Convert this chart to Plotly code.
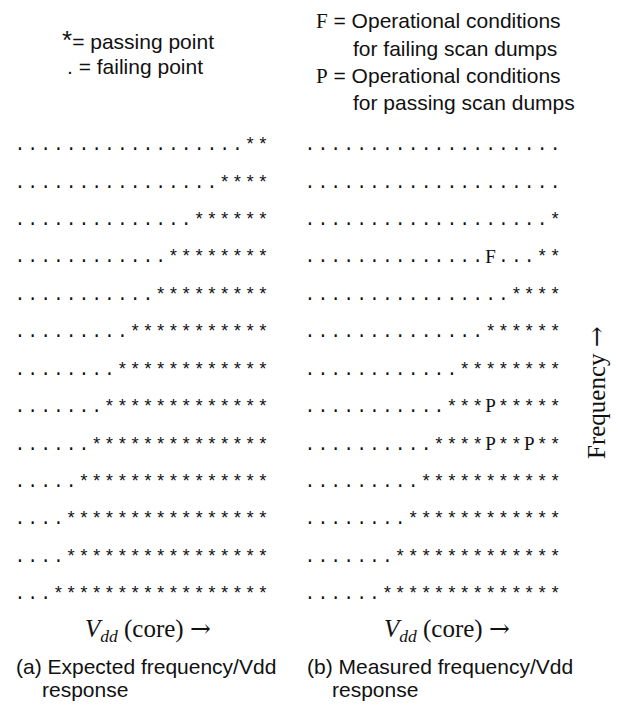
import plotly.graph_objects as go

# ---- data ----
n_cols = 20
row_ids = list(range(13))  # top (high frequency) -> bottom (low frequency)
expected_pass_counts = [2, 4, 6, 8, 9, 11, 12, 13, 14, 15, 16, 16, 17]
measured_pass_counts = [0, 0, 1, 2, 4, 6, 8, 9, 10, 11, 12, 13, 14]
failing_scan_rows = [3]
failing_scan_cols = [14]
passing_scan_rows = [7, 8, 8]
passing_scan_cols = [14, 14, 17]

MONO = "Liberation Mono, Courier New, monospace"
SANS = "Liberation Sans, Arial, sans-serif"
SERIF = "Liberation Serif, Times New Roman, serif"


def build(pass_counts, special=None):
    special = special or {}
    out = {".": ([], []), "*": ([], []), "F": ([], []), "P": ([], [])}
    for r, n in zip(row_ids, pass_counts):
        for c in range(n_cols):
            if (r, c) in special:
                ch = special[(r, c)]
            elif c >= n_cols - n:
                ch = "*"
            else:
                ch = "."
            out[ch][0].append(c)
            out[ch][1].append(r)
    return out


special = {}
for r, c in zip(failing_scan_rows, failing_scan_cols):
    special[(r, c)] = "F"
for r, c in zip(passing_scan_rows, passing_scan_cols):
    special[(r, c)] = "P"

left = build(expected_pass_counts)
right = build(measured_pass_counts, special)

char_font = {
    ".": dict(family=MONO, size=18, color="#111"),
    "*": dict(family=MONO, size=18, color="#111"),
    "F": dict(family=SERIF, size=19, color="#111"),
    "P": dict(family=SERIF, size=19, color="#111"),
}

fig = go.Figure()
for grid, xa in ((left, "x"), (right, "x2")):
    for ch, (xs, ys) in grid.items():
        if not xs:
            continue
        fig.add_trace(go.Scatter(
            x=xs, y=ys, mode="text", text=[ch] * len(xs),
            textposition="middle center",
            textfont=char_font[ch],
            xaxis=xa, yaxis="y", hoverinfo="skip", showlegend=False))

W, H = 619, 713
ax = dict(showgrid=False, zeroline=False, showticklabels=False, ticks="",
          showline=False, range=[-0.5, n_cols - 0.5], fixedrange=True)
fig.update_layout(
    width=W, height=H, margin=dict(l=0, r=0, t=0, b=0),
    paper_bgcolor="white", plot_bgcolor="white",
    xaxis=dict(ax, domain=[13.6 / W, 269.4 / W]),
    xaxis2=dict(ax, domain=[303.5 / W, 561.5 / W], anchor="y"),
    yaxis=dict(showgrid=False, zeroline=False, showticklabels=False, ticks="",
               range=[12.5, -0.5], domain=[(H - 613.5) / H, (H - 127.0) / H],
               fixedrange=True),
)


def ann(text, x, y, size=21, family=SANS, xanchor="left", angle=0):
    fig.add_annotation(text=text, x=x / W, y=1 - y / H, xref="paper", yref="paper",
                       showarrow=False, xanchor=xanchor, yanchor="middle",
                       textangle=angle, font=dict(family=family, size=size, color="#111"))


ARROW = "<span style='font-family:DejaVu Serif'>→</span>"
SERIF_SPAN = "<span style='font-family:Liberation Serif;font-size:21px'>{}</span>"

# legends
ann("<span style='font-size:26px'>*</span>= passing point", 60, 40)
ann(". = failing point", 65, 67)
ann(SERIF_SPAN.format("F") + " = Operational conditions", 314, 21)
ann("for failing scan dumps", 351, 48)
ann(SERIF_SPAN.format("P") + " = Operational conditions", 314, 76)
ann("for passing scan dumps", 351, 103)

# axis labels
vdd = "<i>V</i><sub><i>dd</i></sub> (core) " + ARROW
ann(vdd, 148, 630, size=25, family=SERIF, xanchor="center")
ann(vdd, 447, 630, size=25, family=SERIF, xanchor="center")
ann("Frequency " + ARROW, 596, 393, size=25, family=SERIF, xanchor="center", angle=-90)

# captions
ann("(a) Expected frequency/Vdd", 14, 666)
ann("response", 40, 689)
ann("(b) Measured frequency/Vdd", 305, 666)
ann("response", 330, 689)

fig.write_html("out.html")
